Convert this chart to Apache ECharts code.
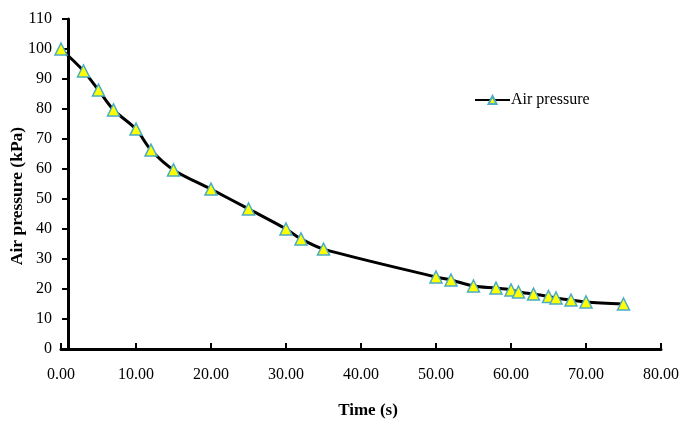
<!DOCTYPE html>
<html><head><meta charset="utf-8">
<script src="https://cdn.jsdelivr.net/npm/echarts@6/dist/echarts.min.js"></script>
<style>html,body{margin:0;padding:0;background:#fff}#c{width:687px;height:423px}</style>
</head><body><div id="c"></div>
<script>
const timeS = [0, 3, 5, 7, 10, 12, 15, 20, 25, 30, 32, 35, 50, 52, 55, 58, 60, 61, 63, 65, 66, 68, 70, 75];
const pressureKPa = [100, 92.7, 86.3, 79.7, 73.3, 66.3, 59.7, 53.3, 46.7, 40, 36.7, 33.3, 24, 23, 21, 20.3, 19.7, 19, 18.3, 17.5, 17, 16.3, 15.7, 15];
const seriesName = 'Air pressure';
const xTitle = 'Time (s)';
const yTitle = 'Air pressure (kPa)';

const font = 'Liberation Serif';
const chart = echarts.init(document.getElementById('c'), null, {renderer: 'canvas'});
chart.setOption({
  animation: false,
  backgroundColor: '#fff',
  grid: {left: 61, right: 26, top: 19, bottom: 74, containLabel: false, outerBoundsMode: 'none'},
  legend: {
    data: [seriesName], left: 469, top: 87, itemWidth: 35, itemHeight: 10, itemGap: 0,
    textStyle: {fontFamily: font, fontSize: 16, color: '#000', padding: [0,0,0,-4]}
  },
  xAxis: {
    type: 'value', min: 0, max: 80, interval: 10,
    name: xTitle, nameLocation: 'middle', nameGap: 53,
    nameTextStyle: {fontFamily: font, fontSize: 17, fontWeight: 'bold', color: '#000', padding: [0, 0, 0, 14]},
    axisLine: {show: true, onZero: false, lineStyle: {color: '#000', width: 3}},
    axisTick: {show: true, inside: true, length: 6, lineStyle: {color: '#000', width: 2}},
    axisLabel: {fontFamily: font, fontSize: 16, color: '#000', margin: 18, formatter: v => v.toFixed(2)},
    splitLine: {show: false}
  },
  yAxis: {
    type: 'value', min: 0, max: 110, interval: 10, offset: -7,
    name: yTitle, nameLocation: 'middle', nameGap: 42, nameMoveOverlap: false,
    nameTextStyle: {fontFamily: font, fontSize: 17.5, fontWeight: 'bold', color: '#000', padding: [0, 24, 0, 0]},
    axisLine: {show: true, onZero: false, lineStyle: {color: '#000', width: 3}},
    axisTick: {show: true, inside: false, length: 6, lineStyle: {color: '#000', width: 2}},
    axisLabel: {fontFamily: font, fontSize: 16, color: '#000', margin: 16},
    splitLine: {show: false}
  },
  series: [{
    name: seriesName, type: 'line', smooth: 0.3,
    data: timeS.map((t, i) => [t, pressureKPa[i]]),
    symbol: 'triangle', symbolSize: 12,
    lineStyle: {color: '#000', width: 3},
    itemStyle: {color: '#FFFF00', borderColor: '#4BACC6', borderWidth: 1.5},
    z: 3
  }]
});
</script></body></html>
